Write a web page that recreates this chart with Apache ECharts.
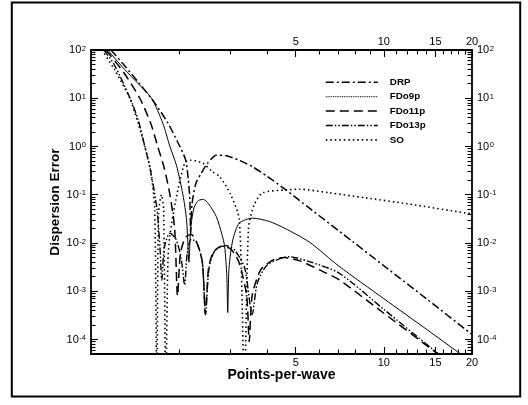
<!DOCTYPE html>
<html><head><meta charset="utf-8">
<script src="https://cdn.jsdelivr.net/npm/echarts@6/dist/echarts.min.js"></script>
<style>html,body{margin:0;padding:0;background:#fff}#c{width:528px;height:405px}</style>
</head><body><div id="c"></div>
<script>
// ---- data ----
const drpX = [1.17,1.305,1.468,1.65,1.83,1.976,2.104,2.15,2.175,2.19,2.21,2.28,2.38,2.5,2.68,2.9,3.2,3.56,4.0,4.63,5.5,7.78,10,14,20];
const drpY = [100,46.6,19.8,8,3.07,1.24,0.53,0.2,0.08,0.015,0.06,0.17,0.28,0.45,0.66,0.64,0.52,0.38,0.24,0.126,0.0559,0.011,0.00337,0.000693,0.000127];

const fd9X = [1.14,1.3,1.45,1.61,1.76,1.86,1.96,2.06,2.12,2.16,2.19,2.25,2.33,2.42,2.52,2.68,2.8,2.86,2.91,2.93,2.96,3.05,3.21,3.56,4.06,4.6,5.56,7.03,10,14,18.2,20];
const fd9Y = [100,40,20,10,3,1,0.4,0.1,0.03,0.004,0.02,0.055,0.076,0.08,0.065,0.035,0.015,0.0085,0.002,0.00036,0.003,0.0116,0.0258,0.0327,0.028,0.02,0.0105,0.0033,0.0007,0.000162,0.000051,0.000034];

const fd11X = [1.125,1.29,1.468,1.6,1.69,1.78,1.86,1.93,1.975,2.02,2.1,2.2,2.3,2.4,2.46,2.52,2.62,2.8,3.0,3.2,3.4,3.47,3.55,3.8,4.2,4.57,5.2,6,7.03,10,14.6,20];
const fd11Y = [100,35,10,3,1,0.35,0.1,0.02,0.0008,0.006,0.013,0.015,0.01,0.004,0.00033,0.003,0.0065,0.0086,0.0075,0.004,0.0008,0.00009,0.0008,0.0028,0.0045,0.005,0.0042,0.0028,0.00173,0.00035,0.000062,0.000015];

const fd13X = [1.107,1.2,1.36,1.45,1.527,1.6,1.68,1.72,1.745,1.78,1.86,1.95,2.03,2.088,2.13,2.2,2.3,2.4,2.46,2.53,2.65,2.9,3.1,3.35,3.55,3.7,4.0,4.75,5.5,7.03,10,15.4,20];
const fd13Y = [100,50,10,3.5,1,0.3,0.05,0.008,0.0017,0.008,0.016,0.012,0.005,0.00135,0.006,0.012,0.01,0.004,0.00033,0.003,0.007,0.0088,0.007,0.003,0.00033,0.0015,0.0035,0.0052,0.0042,0.00238,0.00042,0.00005,0.000015];

const soX = [1.09,1.2,1.357,1.45,1.527,1.6,1.65,1.677,1.7,1.74,1.77,1.8,1.83,1.857,1.95,2.09,2.2,2.41,2.6,2.75,3.0,3.21,3.34,3.45,3.6,3.85,4.63,5.14,6.5,8.69,12,18.97,20];
const soY = [100,40,10,3,1,0.3,0.05,0.00001,0.04,0.1,0.05,0.00001,0.004,0.0135,0.08,0.457,0.52,0.45,0.3,0.238,0.1,0.0306,0.00001,0.02,0.06,0.109,0.126,0.13,0.11,0.086,0.065,0.042,0.04];

const xTickLabels = [5,10,15,20];
const xMinorTickValues = [2,3,4,6,7,8,9,11,12,13,14,16,17,18,19];
const yTickLabels = [1e-4,1e-3,1e-2,1e-1,1,10,100];
const yMinorMultipliers = [2,3,4,5,6,7,8,9];

// ---- layout / style ----
const X_MIN = 1, X_MAX = 20, Y_MIN = 5e-5, Y_MAX = 100;
const FONT = "'Liberation Sans', Arial, Helvetica, sans-serif";
const yMinorTickValues = [];
yTickLabels.concat([1e-5]).forEach(d => yMinorMultipliers.forEach(m => {
  const v = +(m * d).toPrecision(3);
  if (v > Y_MIN && v < Y_MAX) yMinorTickValues.push(v);
}));

function pair(xs, ys) { return xs.map((x, i) => [x, ys[i]]); }

const supRich = {
  b: {fontSize: 11, fontFamily: FONT, color: '#000'},
  s: {fontSize: 7.5, fontFamily: FONT, color: '#000', verticalAlign: 'top', padding: [0, 0, 0, 0.5]}
};
function yFmt(v) { return '{b|10}{s|' + Math.round(Math.log10(v)) + '}'; }

function xAx(pos, ticks, len, line, labels, extra) {
  return Object.assign({
    type: 'log', logBase: 10, min: X_MIN, max: X_MAX, position: pos, gridIndex: 0,
    axisLine: {show: line, onZero: false, lineStyle: {color: '#000', width: 1.8}},
    axisTick: {show: true, inside: true, length: len, customValues: ticks, lineStyle: {color: '#000', width: 1.1}},
    axisLabel: labels ? {show: true, customValues: ticks, margin: 3, color: '#000', fontSize: 11, fontFamily: FONT} : {show: false},
    splitLine: {show: false}, minorTick: {show: false}, axisPointer: {show: false}
  }, extra || {});
}
function yAx(pos, ticks, len, line, labels, extra) {
  return Object.assign({
    type: 'log', logBase: 10, min: Y_MIN, max: Y_MAX, position: pos, gridIndex: 0,
    axisLine: {show: line, onZero: false, lineStyle: {color: '#000', width: 1.8}},
    axisTick: {show: true, inside: true, length: len, customValues: ticks, lineStyle: {color: '#000', width: 1.1}},
    axisLabel: labels ? {show: true, customValues: ticks, margin: 5, formatter: yFmt, rich: supRich} : {show: false},
    splitLine: {show: false}, minorTick: {show: false}, axisPointer: {show: false}
  }, extra || {});
}

const chart = echarts.init(document.getElementById('c'), null, {renderer: 'canvas'});
const seriesDef = [
  {name: 'DRP', data: pair(drpX, drpY), dash: [8, 3, 2, 3], width: 1.5},
  {name: 'FDo9p', data: pair(fd9X, fd9Y), dash: 'solid', width: 1},
  {name: 'FDo11p', data: pair(fd11X, fd11Y), dash: [9, 5], width: 1.5},
  {name: 'FDo13p', data: pair(fd13X, fd13Y), dash: [7, 2, 1.5, 2, 1.5, 2], width: 1.4},
  {name: 'SO', data: pair(soX, soY), dash: [1.5, 3], width: 1.6}
];

chart.setOption({
  animation: false,
  backgroundColor: '#fff',
  grid: {left: 91, top: 50, right: 56, bottom: 51, containLabel: false},
  xAxis: [
    xAx('bottom', xTickLabels, 7, true, true, {name: 'Points-per-wave', nameLocation: 'middle', nameGap: 14, nameMoveOverlap: false,
      nameTextStyle: {fontSize: 14, fontWeight: 'bold', fontFamily: FONT, color: '#000'}}),
    xAx('bottom', xMinorTickValues, 4.5, false, false),
    xAx('top', xTickLabels, 7, true, true),
    xAx('top', xMinorTickValues, 4.5, false, false)
  ],
  yAxis: [
    yAx('left', yTickLabels, 7, true, true, {name: 'Dispersion Error', nameLocation: 'middle', nameGap: 29, nameMoveOverlap: false,
      nameTextStyle: {fontSize: 13.6, fontWeight: 'bold', fontFamily: FONT, color: '#000'}}),
    yAx('left', yMinorTickValues, 4.5, false, false),
    yAx('right', yTickLabels, 7, true, true),
    yAx('right', yMinorTickValues, 4.5, false, false)
  ],
  legend: {
    orient: 'vertical', left: 325, top: 77.3, padding: 0, itemWidth: 52, itemHeight: 10, itemGap: 4.4,
    textStyle: {fontSize: 9.8, fontWeight: 'bold', fontFamily: FONT, color: '#000', padding: [0, 0, 0, 7]},
    itemStyle: {color: 'rgba(0,0,0,0)', borderWidth: 0, borderColor: 'rgba(0,0,0,0)', opacity: 0},
    lineStyle: {width: 'inherit'},
    data: [
      {name: 'DRP'},
      {name: 'FDo9p', lineStyle: {type: [1, 0.8], width: 1}},
      {name: 'FDo11p'},
      {name: 'FDo13p'},
      {name: 'SO'}
    ]
  },
  graphic: [{
    type: 'rect', shape: {x: 11.8, y: 2.5, width: 508.4, height: 394},
    style: {fill: 'none', stroke: '#000', lineWidth: 2}, silent: true, z: 100
  }],
  series: seriesDef.map(s => ({
    type: 'line', name: s.name, data: s.data, xAxisIndex: 0, yAxisIndex: 0,
    symbol: 'none', smooth: 0.25, clip: true,
    lineStyle: {color: '#000', width: s.width, type: s.dash},
    itemStyle: {color: '#000'}
  }))
});
</script></body></html>
